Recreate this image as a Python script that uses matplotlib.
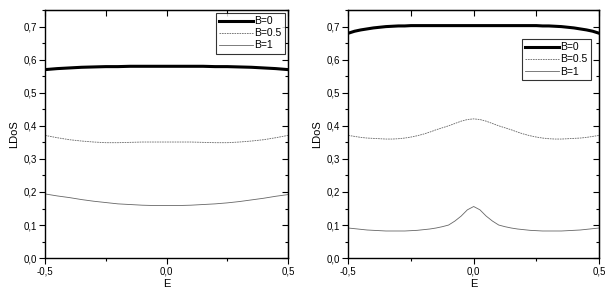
import matplotlib
matplotlib.use("Agg")
import matplotlib.pyplot as plt
from matplotlib.ticker import MultipleLocator, FuncFormatter

plt.rcParams['font.family'] = ['Liberation Sans', 'DejaVu Sans']

# left panel, E step 0.05
E_left = [-0.5, -0.45, -0.4, -0.35, -0.3, -0.25, -0.2, -0.15, -0.1, -0.05, 0.0,
          0.05, 0.1, 0.15, 0.2, 0.25, 0.3, 0.35, 0.4, 0.45, 0.5]
left_b0 = [0.570, 0.573, 0.575, 0.577, 0.578, 0.579, 0.579, 0.580, 0.580, 0.580, 0.580,
           0.580, 0.580, 0.580, 0.579, 0.579, 0.578, 0.577, 0.575, 0.573, 0.570]
left_b05 = [0.371, 0.364, 0.358, 0.354, 0.351, 0.349, 0.349, 0.350, 0.351, 0.351, 0.351,
            0.351, 0.351, 0.350, 0.349, 0.349, 0.351, 0.354, 0.358, 0.364, 0.371]
left_b1 = [0.194, 0.188, 0.183, 0.177, 0.172, 0.168, 0.164, 0.162, 0.160, 0.159, 0.159,
           0.159, 0.160, 0.162, 0.164, 0.167, 0.171, 0.176, 0.181, 0.187, 0.192]

# right panel, E step 0.025
E_right = [-0.5, -0.475, -0.45, -0.425, -0.4, -0.375, -0.35, -0.325, -0.3, -0.275,
           -0.25, -0.225, -0.2, -0.175, -0.15, -0.125, -0.1, -0.075, -0.05, -0.025,
           0.0, 0.025, 0.05, 0.075, 0.1, 0.125, 0.15, 0.175, 0.2, 0.225,
           0.25, 0.275, 0.3, 0.325, 0.35, 0.375, 0.4, 0.425, 0.45, 0.475, 0.5]
right_b0 = [0.680, 0.686, 0.690, 0.693, 0.696, 0.698, 0.700, 0.701, 0.702, 0.702,
            0.703, 0.703, 0.703, 0.703, 0.703, 0.703, 0.703, 0.703, 0.703, 0.703,
            0.703, 0.703, 0.703, 0.703, 0.703, 0.703, 0.703, 0.703, 0.703, 0.703,
            0.703, 0.702, 0.702, 0.701, 0.700, 0.698, 0.696, 0.693, 0.690, 0.686, 0.680]
right_b05 = [0.371, 0.368, 0.365, 0.363, 0.362, 0.361, 0.360, 0.360, 0.361, 0.363,
             0.366, 0.370, 0.375, 0.381, 0.388, 0.394, 0.400, 0.407, 0.414, 0.419,
             0.421, 0.419, 0.414, 0.407, 0.400, 0.394, 0.388, 0.381, 0.375, 0.370,
             0.366, 0.363, 0.361, 0.360, 0.360, 0.361, 0.362, 0.363, 0.365, 0.368, 0.371]
right_b1 = [0.091, 0.089, 0.087, 0.085, 0.084, 0.083, 0.082, 0.082, 0.082, 0.082,
            0.083, 0.084, 0.086, 0.088, 0.091, 0.095, 0.100, 0.112, 0.127, 0.146,
            0.156, 0.146, 0.127, 0.112, 0.100, 0.095, 0.091, 0.088, 0.086, 0.084,
            0.083, 0.082, 0.082, 0.082, 0.082, 0.083, 0.084, 0.085, 0.087, 0.089, 0.091]

labels = ['B=0', 'B=0.5', 'B=1']


def comma(v, pos):
    return ('%.1f' % v).replace('.', ',')


def style_axes(ax):
    ax.set_xlim(-0.5, 0.5)
    ax.set_ylim(0, 0.75)
    ax.xaxis.set_major_locator(MultipleLocator(0.5))
    ax.xaxis.set_minor_locator(MultipleLocator(0.25))
    ax.yaxis.set_major_locator(MultipleLocator(0.1))
    ax.yaxis.set_minor_locator(MultipleLocator(0.05))
    ax.xaxis.set_major_formatter(FuncFormatter(comma))
    ax.yaxis.set_major_formatter(FuncFormatter(comma))
    ax.tick_params(which='major', direction='out', length=4, width=0.8, labelsize=7, pad=2)
    ax.tick_params(which='minor', direction='out', length=2, width=0.8)
    for s in ax.spines.values():
        s.set_linewidth(1.0)
    # mirrored ticks pointing inward on top and right
    top = ax.secondary_xaxis('top')
    top.xaxis.set_major_locator(MultipleLocator(0.25))
    top.tick_params(direction='in', length=4, width=0.8, labeltop=False)
    right = ax.secondary_yaxis('right')
    right.yaxis.set_major_locator(MultipleLocator(0.1))
    right.yaxis.set_minor_locator(MultipleLocator(0.05))
    right.tick_params(which='major', direction='in', length=4, width=0.8, labelright=False)
    right.tick_params(which='minor', direction='in', length=2, width=0.8)
    ax.set_xlabel('E', fontsize=8, labelpad=2)
    ax.set_ylabel('LDoS', fontsize=8, labelpad=3)


fig = plt.figure(figsize=(6.1, 2.96), dpi=100)
ax1 = fig.add_axes([0.074, 0.128, 0.398, 0.838])
ax2 = fig.add_axes([0.571, 0.128, 0.411, 0.838])

for ax, E, b0, b05, b1 in [(ax1, E_left, left_b0, left_b05, left_b1),
                           (ax2, E_right, right_b0, right_b05, right_b1)]:
    ax.plot(E, b0, color='black', lw=2.2, label=labels[0])
    ax.plot(E, b05, color='#666666', lw=0.6, ls=(0, (2, 1)), label=labels[1])
    ax.plot(E, b1, color='#666666', lw=0.6, label=labels[2])
    style_axes(ax)

leg_kw = dict(fontsize=7.5, frameon=True, fancybox=False, edgecolor='black',
              handlelength=3.3, handletextpad=0.1, borderpad=0.3, labelspacing=0.2,
              borderaxespad=0.3)
l1 = ax1.legend(loc='upper right', **leg_kw)
l1.get_frame().set_linewidth(0.8)
l2 = ax2.legend(loc='upper right', bbox_to_anchor=(0.98, 0.895), **leg_kw)
l2.get_frame().set_linewidth(0.8)

fig.savefig('out.png', dpi=100)
